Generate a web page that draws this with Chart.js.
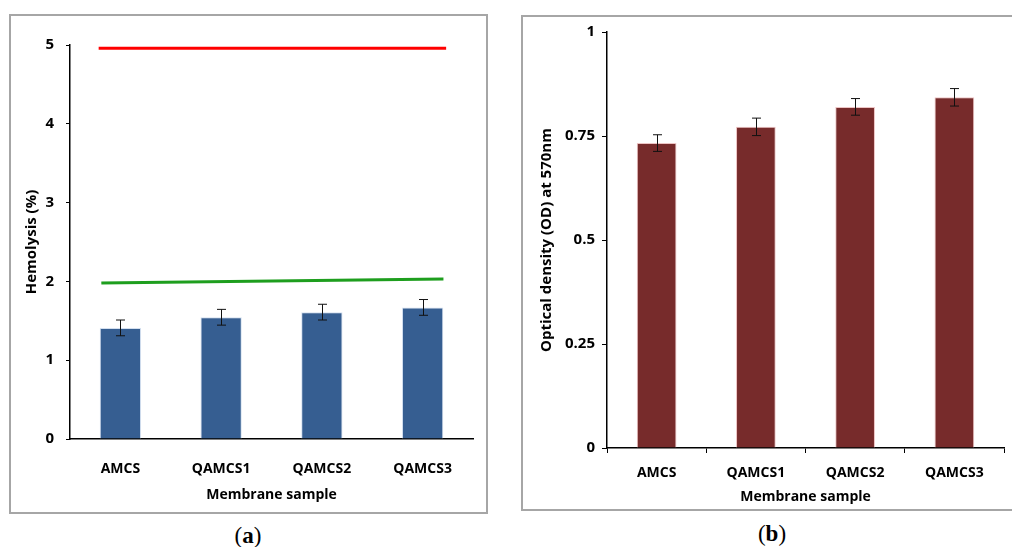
<!DOCTYPE html>
<html>
<head>
<meta charset="utf-8">
<script src="https://cdn.jsdelivr.net/npm/chart.js@4"></script>
<style>
  html, body { margin: 0; padding: 0; background: #fff; overflow: hidden; }
  body { width: 1012px; height: 547px; position: relative; }
  .box { position: absolute; border: 2px solid #a6a6a6; box-sizing: border-box; }
  canvas { position: absolute; }
  .cap { position: absolute; width: 80px; text-align: center; font-family: "Liberation Serif", "DejaVu Serif", serif; font-size: 23px; line-height: 26px; color: #000; }
  .cap b { font-weight: bold; }
</style>
</head>
<body>
<div class="box" style="left:9px; top:14px; width:479px; height:500px;"></div>
<div class="box" style="left:521px; top:15px; width:500px; height:496px;"></div>
<canvas id="chartA" width="477" height="498" style="left:10px; top:15px;"></canvas>
<canvas id="chartB" width="490" height="494" style="left:522px; top:16px;"></canvas>
<div class="cap" style="left:208px; top:523px;">(<b>a</b>)</div>
<div class="cap" style="left:732px; top:521px;">(<b>b</b>)</div>
<script>
// --- data ---
const SAMPLES = ['AMCS', 'QAMCS1', 'QAMCS2', 'QAMCS3'];

const hemolysis = [1.41, 1.545, 1.61, 1.67];
const hemolysisErr = [0.1, 0.1, 0.1, 0.1];
const hemoTicks = [0, 1, 2, 3, 4, 5];
// reference lines (x in category units, 0..4)
const redLine = [{ x: 0.07, y: 4.96 }, { x: 3.95, y: 4.96 }];
const greenLine = [{ x: 0.1, y: 1.98 }, { x: 3.92, y: 2.03 }];

const optDensity = [0.733, 0.772, 0.82, 0.843];
const optDensityErr = [0.02, 0.021, 0.02, 0.021];
const odTicks = [0, 0.25, 0.5, 0.75, 1];

const FONT = "'Open Sans', 'Liberation Sans', sans-serif";

// error bars drawn through the y scale
const errorBars = {
    id: 'errorBars',
    afterDatasetsDraw(chart, args, opts) {
        const ctx = chart.ctx;
        const y = chart.scales.y;
        const meta = chart.getDatasetMeta(0);
        ctx.save();
        ctx.strokeStyle = '#111';
        ctx.lineWidth = 1;
        meta.data.forEach((bar, i) => {
            const v = opts.values[i], e = opts.errors[i];
            const top = y.getPixelForValue(v + e);
            const bot = y.getPixelForValue(v - e);
            const x = Math.round(bar.x) + 0.5;
            ctx.beginPath();
            ctx.moveTo(x, top); ctx.lineTo(x, bot);
            ctx.moveTo(x - 4.5, top); ctx.lineTo(x + 4.5, top);
            ctx.moveTo(x - 4.5, bot); ctx.lineTo(x + 4.5, bot);
            ctx.stroke();
        });
        ctx.restore();
    }
};

const tickFont = { family: FONT, size: 14, weight: 'bold' };
const yTickFont = { family: FONT, size: 15, weight: 'bold' };

// --- (a) hemolysis ---
new Chart(document.getElementById('chartA'), {
    type: 'bar',
    data: {
        labels: SAMPLES,
        datasets: [{
            data: hemolysis,
            backgroundColor: '#365E91',
            borderColor: 'rgba(200,215,235,0.8)',
            borderWidth: 1,
            grouped: false,
            categoryPercentage: 1,
            barPercentage: 0.41,
            order: 2
        }, {
            type: 'line',
            data: redLine,
            xAxisID: 'xl',
            borderColor: '#FF0000',
            borderWidth: 3,
            pointRadius: 0,
            order: 1
        }, {
            type: 'line',
            data: greenLine,
            xAxisID: 'xl',
            borderColor: '#1E9E1E',
            borderWidth: 3,
            pointRadius: 0,
            order: 1
        }]
    },
    options: {
        responsive: false,
        devicePixelRatio: 1,
        animation: false,
        layout: { padding: { left: 0, top: 30, right: 14, bottom: 0 } },
        plugins: {
            legend: { display: false },
            tooltip: { enabled: false },
            errorBars: { values: hemolysis, errors: hemolysisErr }
        },
        scales: {
            x: {
                grid: { display: false },
                border: { display: true, color: '#000', width: 1.5 },
                ticks: { color: '#000', font: tickFont, padding: 14 },
                title: { display: true, text: 'Membrane sample', color: '#000', font: tickFont, padding: { top: 0, bottom: 10 } },
                afterFit: (s) => { s.height = 74; }
            },
            xl: { type: 'linear', display: false, min: 0, max: 4 },
            y: {
                min: 0, max: 5,
                afterBuildTicks: (s) => { s.ticks = hemoTicks.map(v => ({ value: v })); },
                grid: { drawOnChartArea: false, drawTicks: true, tickLength: 4, color: '#000' },
                border: { display: true, color: '#000', width: 1.5 },
                ticks: { color: '#000', font: yTickFont, padding: 12 },
                title: { display: true, text: 'Hemolysis (%)', color: '#000', font: { family: FONT, size: 15, weight: 'bold' }, padding: { top: 13, bottom: 0 } },
                afterFit: (s) => { s.width = 60; }
            }
        }
    },
    plugins: [errorBars]
});

// --- (b) optical density ---
new Chart(document.getElementById('chartB'), {
    type: 'bar',
    data: {
        labels: SAMPLES,
        datasets: [{
            data: optDensity,
            backgroundColor: '#772B2B',
            borderColor: 'rgba(235,190,190,0.9)',
            borderWidth: 1,
            categoryPercentage: 1,
            barPercentage: 0.4
        }]
    },
    options: {
        responsive: false,
        devicePixelRatio: 1,
        animation: false,
        layout: { padding: { left: 0, top: 14, right: 8, bottom: 0 } },
        plugins: {
            legend: { display: false },
            tooltip: { enabled: false },
            errorBars: { values: optDensity, errors: optDensityErr }
        },
        scales: {
            x: {
                grid: { drawOnChartArea: false, drawTicks: true, tickLength: 5, color: '#000', offset: true },
                border: { display: true, color: '#000', width: 1.5 },
                ticks: { color: '#000', font: tickFont, padding: 12 },
                title: { display: true, text: 'Membrane sample', color: '#000', font: tickFont, padding: { top: 0, bottom: 5 } },
                afterFit: (s) => { s.height = 62; }
            },
            y: {
                min: 0, max: 1,
                afterBuildTicks: (s) => { s.ticks = odTicks.map(v => ({ value: v })); },
                grid: { drawOnChartArea: false, drawTicks: true, tickLength: 5, color: '#000' },
                border: { display: true, color: '#000', width: 1.5 },
                ticks: { color: '#000', font: yTickFont, padding: 7, callback: (v) => String(v) },
                title: { display: true, text: 'Optical density (OD) at 570nm', color: '#000', font: { family: FONT, size: 15, weight: 'bold' }, padding: { top: 16, bottom: 0 } },
                afterFit: (s) => { s.width = 85; }
            }
        }
    },
    plugins: [errorBars]
});
</script>
</body>
</html>
